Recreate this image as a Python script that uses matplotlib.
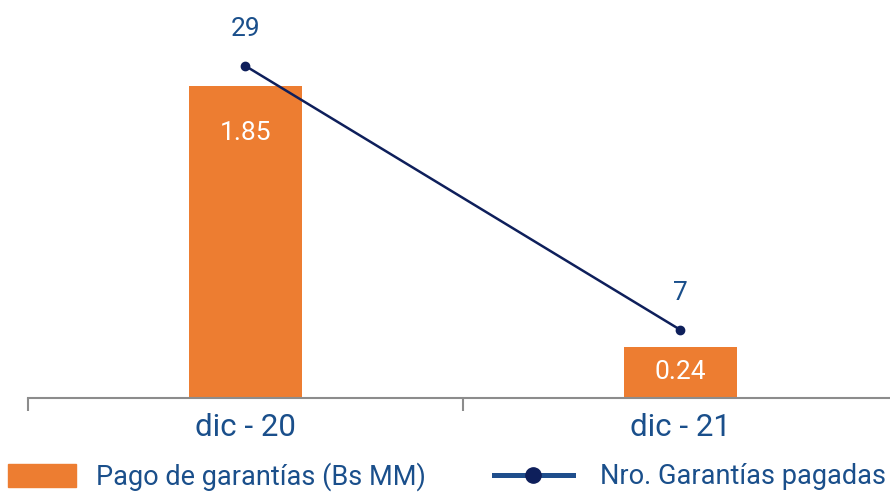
import matplotlib.pyplot as plt
from matplotlib.lines import Line2D
from matplotlib.patches import Patch

categories = ["dic - 20", "dic - 21"]
pago = [1.85, 0.24]
pago_labels = ["1.85", "0.24"]
nro = [29, 7]

orange = "#ED7D31"
navy = "#0E1F5B"
blue_txt = "#1A4F8B"

plt.rcParams['font.family'] = ['Roboto', 'DejaVu Sans']

W, H = 890, 492
fig = plt.figure(figsize=(W / 100, H / 100), dpi=100)
ax = fig.add_axes([28 / W, 1 - 398 / H, 870 / W, 398 / H])
x = list(range(len(categories)))

# bars rise from the bottom of the axis, as in the source chart
ymin, ymax = -0.075, 2.38
ax.bar(x, [v - ymin for v in pago], bottom=ymin, width=0.262, color=orange, zorder=2)
for xi, v, lab in zip(x, pago, pago_labels):
    # near the top of tall bars, centred in short ones
    ly_bar = max(v - 0.29, (v + ymin) / 2)
    ax.text(xi, ly_bar, lab, ha="center", va="center", color="white", fontsize=19)

ax.set_xlim(-0.5, 1.5)
ax.set_ylim(ymin, ymax)
ax.set_yticks([])
for s in ["top", "right", "left"]:
    ax.spines[s].set_visible(False)
ax.spines["bottom"].set_color("#8C8C8C")
ax.spines["bottom"].set_linewidth(1.5)
ax.set_xticks(x)
ax.set_xticklabels(categories, fontsize=22.5, color=blue_txt)
ax.tick_params(axis="x", which="major", length=0, pad=11)
ax.set_xticks([-0.5, 0.5, 1.5], minor=True)
ax.tick_params(axis="x", which="minor", length=9, width=1.5, color="#8C8C8C")

ax2 = ax.twinx()
ax2.plot(x, nro, color=navy, lw=1.8, marker="o", ms=6, zorder=3)
for xi, v in zip(x, nro):
    ax2.text(xi, v + 3.05, str(v), ha="center", va="center", color=blue_txt, fontsize=19)
ax2.set_ylim(1.33, 34.5)
ax2.set_yticks([])
for s in ["top", "right", "left", "bottom"]:
    ax2.spines[s].set_visible(False)

ly = 1 - 477 / H
fig.legend([Patch(color=orange)], ["Pago de garantías (Bs MM)"],
           loc="center left", bbox_to_anchor=(8 / W, ly), frameon=False,
           fontsize=19.5, labelcolor=blue_txt, handlelength=2.5,
           handleheight=0.95, handletextpad=0.75, borderpad=0, borderaxespad=0)
line_h = Line2D([], [], color="#1F4E8C", lw=3.6, marker="o", ms=11,
                markerfacecolor=navy, markeredgecolor=navy)
fig.legend([line_h], ["Nro. Garantías pagadas"],
           loc="center left", bbox_to_anchor=(494 / W, ly), frameon=False,
           fontsize=19.5, labelcolor=blue_txt, handlelength=2.9,
           handletextpad=1.0, borderpad=0, borderaxespad=0)

fig.savefig("out.png", dpi=100)
